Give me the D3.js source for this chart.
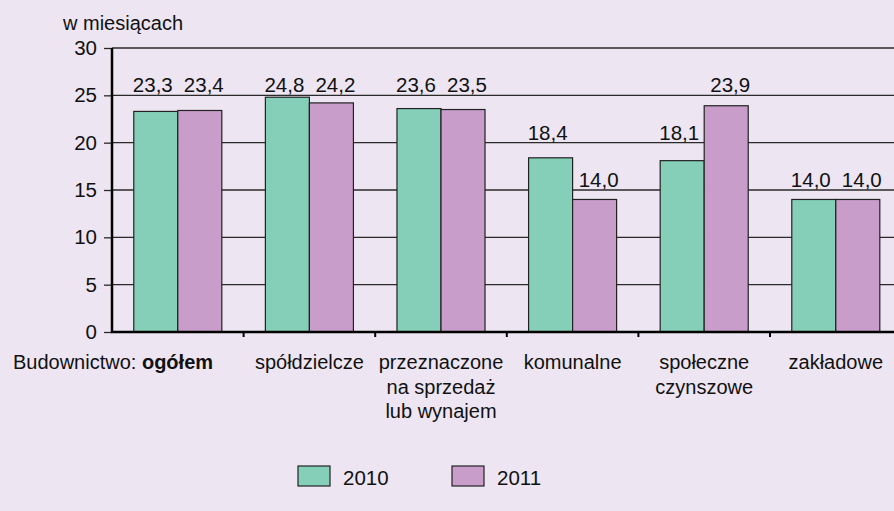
<!DOCTYPE html>
<html>
<head>
<meta charset="utf-8">
<script src="https://cdn.jsdelivr.net/npm/d3@7"></script>
<style>
  html, body { margin: 0; padding: 0; background: #ede5f1; }
  svg { display: block; font-family: "Liberation Sans", Arial, sans-serif; }
</style>
</head>
<body>
<div id="chart"></div>
<script>
// data
var categories = ["ogolem", "spoldzielcze", "sprzedaz", "komunalne", "spoleczne", "zakladowe"];
var catLabels = [
  ["Budownictwo: |ogółem"],
  ["spółdzielcze"],
  ["przeznaczone", "na sprzedaż", "lub wynajem"],
  ["komunalne"],
  ["społeczne", "czynszowe"],
  ["zakładowe"]
];
var series = ["2010", "2011"];
var values2010 = [23.3, 24.8, 23.6, 18.4, 18.1, 14.0];
var values2011 = [23.4, 24.2, 23.5, 14.0, 23.9, 14.0];
var yTicks = [0, 5, 10, 15, 20, 25, 30];
var colors = ["#85cfb8", "#c89dca"];

var W = 894, H = 511;
var svg = d3.select("#chart").append("svg")
    .attr("width", W)
    .attr("height", H);

svg.append("rect").attr("width", W).attr("height", H).attr("fill", "#ede5f1");

var x = d3.scaleBand().domain(categories).range([112, 112 + 6 * 131.6]).padding(0);
var xs = d3.scaleBand().domain(series).range([0, x.bandwidth()]).paddingInner(0).paddingOuter(0.495);
var y = d3.scaleLinear().domain([0, 30]).range([332, 48]);

// gridlines
svg.append("g").selectAll("line")
    .data(yTicks.filter(function(t) { return t > 0; }))
    .join("line")
    .attr("x1", 112).attr("x2", W)
    .attr("y1", function(d) { return y(d); })
    .attr("y2", function(d) { return y(d); })
    .attr("stroke", "#2a2a2a").attr("stroke-width", 1.3);

// y axis
var yAxis = svg.append("g")
    .attr("transform", "translate(112,0)")
    .call(d3.axisLeft(y).tickValues(yTicks).tickSize(8).tickPadding(7).tickFormat(d3.format("d")));
yAxis.select(".domain").remove();
yAxis.selectAll(".tick line").attr("stroke", "#2a2a2a").attr("stroke-width", 1.3);
yAxis.selectAll(".tick text")
    .attr("font-size", 20.5).attr("fill", "#111")
    .attr("font-family", "Liberation Sans, Arial, sans-serif");

// bars
var rows = categories.map(function(c, i) {
  return { cat: c, vals: [values2010[i], values2011[i]] };
});
var groups = svg.append("g").selectAll("g")
    .data(rows)
    .join("g")
    .attr("transform", function(d) { return "translate(" + x(d.cat) + ",0)"; });

groups.selectAll("rect")
    .data(function(d) { return d.vals.map(function(v, k) { return { s: series[k], v: v, k: k }; }); })
    .join("rect")
    .attr("x", function(d) { return xs(d.s); })
    .attr("width", xs.bandwidth())
    .attr("y", function(d) { return y(d.v); })
    .attr("height", function(d) { return y(0) - y(d.v); })
    .attr("fill", function(d) { return colors[d.k]; })
    .attr("stroke", "#222").attr("stroke-width", 1.2);

// value labels, sitting just above the next gridline
groups.selectAll("text")
    .data(function(d) { return d.vals.map(function(v, k) { return { s: series[k], v: v, k: k }; }); })
    .join("text")
    .attr("x", function(d) { return xs(d.s) + xs.bandwidth() / 2 + (d.k === 0 ? -3 : 4); })
    .attr("y", function(d) { return y(Math.ceil(d.v / 5) * 5) - 3; })
    .attr("text-anchor", "middle")
    .attr("font-size", 20.5).attr("fill", "#111")
    .text(function(d) { return d3.format(".1f")(d.v).replace(".", ","); });

// axis lines
svg.append("line").attr("x1", 112).attr("x2", 112).attr("y1", y(30)).attr("y2", y(0) + 1)
    .attr("stroke", "#000").attr("stroke-width", 2.5);
svg.append("line").attr("x1", 111).attr("x2", W).attr("y1", y(0)).attr("y2", y(0))
    .attr("stroke", "#000").attr("stroke-width", 2.5);

// x ticks between categories
svg.append("g").selectAll("line")
    .data(categories.slice(1))
    .join("line")
    .attr("x1", function(d) { return x(d); }).attr("x2", function(d) { return x(d); })
    .attr("y1", y(0)).attr("y2", y(0) + 5)
    .attr("stroke", "#000").attr("stroke-width", 2);

// category labels
var catG = svg.append("g").selectAll("text")
    .data(categories)
    .join("text")
    .attr("x", function(d, i) { return i === 0 ? x(d) + 1 : x(d) + x.bandwidth() / 2; })
    .attr("y", 369)
    .attr("text-anchor", "middle")
    .attr("font-size", 20).attr("fill", "#111");

catG.each(function(d, i) {
  var t = d3.select(this);
  catLabels[i].forEach(function(line, j) {
    var parts = line.split("|");
    t.append("tspan")
        .attr("x", t.attr("x"))
        .attr("dy", j === 0 ? 0 : 24.5)
        .text(parts[0]);
    if (parts[1]) {
      t.append("tspan").attr("font-weight", "bold").text(parts[1]);
    }
  });
});

// axis title
svg.append("text").attr("x", 63).attr("y", 30)
    .attr("font-size", 20).attr("fill", "#111")
    .text("w miesiącach");

// legend
var legend = svg.append("g").selectAll("g")
    .data(series)
    .join("g")
    .attr("transform", function(d, i) { return "translate(" + (298 + i * 154) + ",466)"; });
legend.append("rect")
    .attr("width", 32).attr("height", 20)
    .attr("fill", function(d, i) { return colors[i]; })
    .attr("stroke", "#222").attr("stroke-width", 1.2);
legend.append("text")
    .attr("x", 45).attr("y", 19)
    .attr("font-size", 20.5).attr("fill", "#111")
    .text(function(d) { return d; });
</script>
</body>
</html>
